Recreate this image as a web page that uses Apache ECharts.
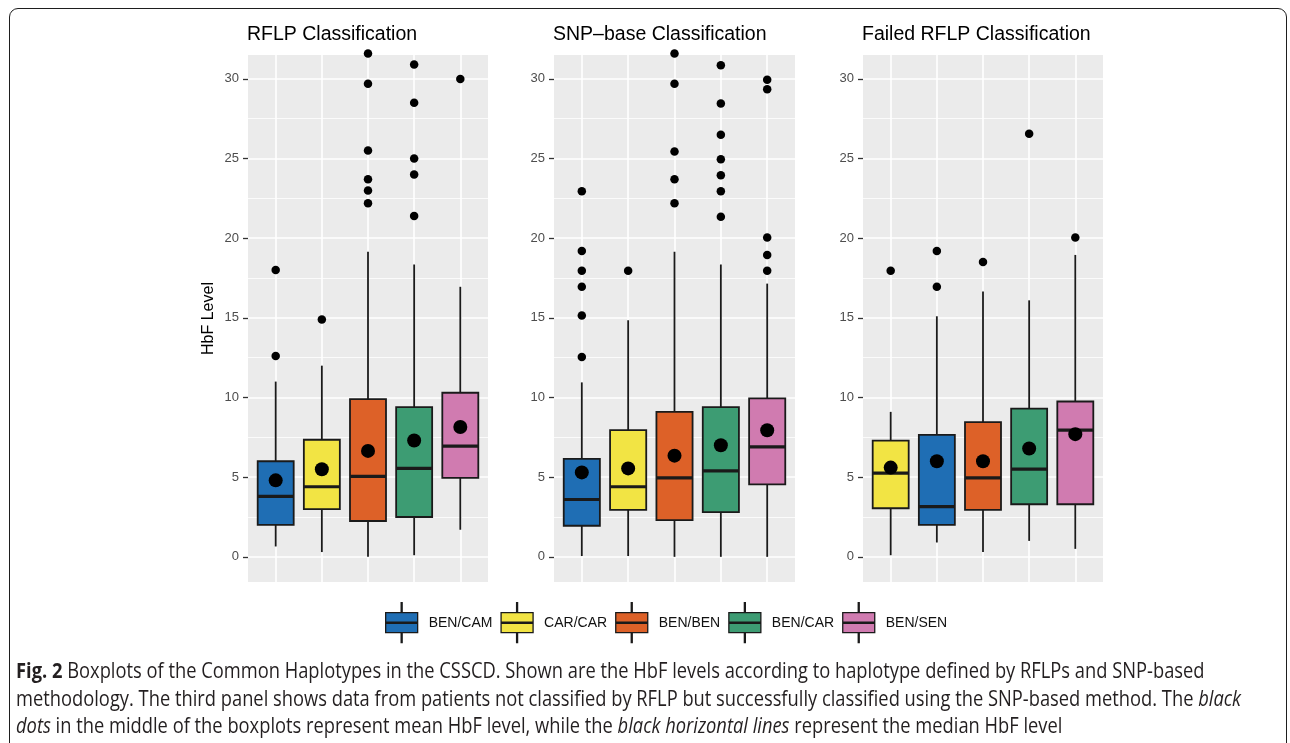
<!DOCTYPE html>
<html>
<head>
<meta charset="utf-8">
<script src="https://cdn.jsdelivr.net/npm/echarts@6/dist/echarts.min.js"></script>
<style>
    html, body { margin: 0; padding: 0; background: #fff; overflow: hidden; }
    #main { position: absolute; left: 0; top: 0; width: 1290px; height: 743px; }
    #frame {
        position: absolute; left: 9px; top: 8px; width: 1278px; height: 800px;
        border: 1.5px solid #1e1e1e; border-radius: 9px; box-sizing: border-box; pointer-events: none;
    }
    #caption {
        position: absolute; left: 16px; top: 657px;
        font-family: "Open Sans", sans-serif; font-size: 21px; line-height: 27.5px; color: #231f20;
    }
    #caption span { display: block; white-space: nowrap; transform-origin: 0 0; }
</style>
</head>
<body>
<div id="main"></div>
<div id="frame"></div>
<div id="caption">
    <span><b>Fig. 2</b> Boxplots of the Common Haplotypes in the CSSCD. Shown are the HbF levels according to haplotype defined by RFLPs and SNP-based</span>
    <span>methodology. The third panel shows data from patients not classified by RFLP but successfully classified using the SNP-based method. The <i>black</i></span>
    <span><i>dots</i> in the middle of the boxplots represent mean HbF level, while the <i>black horizontal lines</i> represent the median HbF level</span>
</div>
<script>
// haplotypes, shared colours and legend
const haplotypes = ['BEN/CAM', 'CAR/CAR', 'BEN/BEN', 'BEN/CAR', 'BEN/SEN'];
const hapColors = ['#1f6eb4', '#f2e444', '#dd6128', '#3d9c73', '#d07bb0'];
const panelTitles = ['RFLP Classification', 'SNP\u2013base Classification', 'Failed RFLP Classification'];
const yTicks = [0, 5, 10, 15, 20, 25, 30];
const yMinorTicks = [2.5, 7.5, 12.5, 17.5, 22.5, 27.5];
const xSlots = [1, 2, 3, 4, 5];

// RFLP panel, boxes are [lower whisker, Q1, median, Q3, upper whisker]
const rflpOrder = ['BEN/CAM', 'CAR/CAR', 'BEN/BEN', 'BEN/CAR', 'BEN/SEN'];
const rflpBoxes = [
    [0.65, 2.0, 3.8, 6.0, 11.0],
    [0.3, 3.0, 4.4, 7.35, 12.0],
    [0.0, 2.25, 5.05, 9.9, 19.15],
    [0.1, 2.5, 5.55, 9.4, 18.35],
    [1.7, 4.95, 6.95, 10.3, 16.95]
];
const rflpMeans = [4.8, 5.5, 6.65, 7.3, 8.15];
const rflpOutliers = [
    [12.6, 18.0],
    [14.9],
    [22.2, 23.0, 23.7, 25.5, 29.7, 31.6],
    [21.4, 24.0, 25.0, 28.5, 30.9],
    [30.0]
];

// SNP-based panel
const snpOrder = ['BEN/CAM', 'CAR/CAR', 'BEN/BEN', 'BEN/CAR', 'BEN/SEN'];
const snpBoxes = [
    [0.05, 1.95, 3.6, 6.15, 10.95],
    [0.05, 2.95, 4.4, 7.95, 14.85],
    [0.0, 2.3, 4.95, 9.1, 19.15],
    [0.0, 2.8, 5.4, 9.4, 18.35],
    [0.0, 4.55, 6.9, 9.95, 17.15]
];
const snpMeans = [5.3, 5.55, 6.35, 7.0, 7.95];
const snpOutliers = [
    [12.55, 15.15, 16.95, 17.95, 19.2, 22.95],
    [17.95],
    [22.2, 23.7, 25.45, 29.7, 31.6],
    [21.35, 22.95, 23.95, 24.95, 26.5, 28.45, 30.85],
    [17.95, 18.95, 20.05, 29.35, 29.95]
];

// failed RFLP panel (yellow first)
const failedOrder = ['CAR/CAR', 'BEN/CAM', 'BEN/BEN', 'BEN/CAR', 'BEN/SEN'];
const failedBoxes = [
    [0.1, 3.05, 5.25, 7.3, 9.1],
    [0.9, 2.0, 3.15, 7.65, 15.1],
    [0.3, 2.95, 4.95, 8.45, 16.65],
    [1.0, 3.3, 5.5, 9.3, 16.1],
    [0.5, 3.3, 7.95, 9.75, 18.95]
];
const failedMeans = [5.6, 6.0, 6.0, 6.8, 7.7];
const failedOutliers = [[17.95], [16.95, 19.2], [18.5], [26.55], [20.05]];

const panels = [
    {order: rflpOrder, boxes: rflpBoxes, means: rflpMeans, outliers: rflpOutliers},
    {order: snpOrder, boxes: snpBoxes, means: snpMeans, outliers: snpOutliers},
    {order: failedOrder, boxes: failedBoxes, means: failedMeans, outliers: failedOutliers}
];

const font = '"Liberation Sans", Arial, Helvetica, sans-serif';
const gridLefts = [248, 554, 863];
const gridWidths = [240, 241, 240];
const boxWidth = 0.78; // in x units
const ink = '#1a1a1a';
const keyIcon = 'path://M16.5,0H17.5V10H16.5Z M1,10H33V19.4H1Z M1,20.6H33V30H1Z M16.5,30H17.5V40H16.5Z';

function renderBox(params, api) {
    const x = api.value(0);
    const lo = api.coord([x, api.value(1)]);
    const q1 = api.coord([x, api.value(2)]);
    const med = api.coord([x, api.value(3)]);
    const q3 = api.coord([x, api.value(4)]);
    const hi = api.coord([x, api.value(5)]);
    const half = api.size([boxWidth, 0])[0] / 2;
    const line = {stroke: ink, lineWidth: 1.8};
    return {
        type: 'group',
        children: [
            {type: 'line', shape: {x1: lo[0], y1: lo[1], x2: q1[0], y2: q1[1]}, style: line},
            {type: 'line', shape: {x1: q3[0], y1: q3[1], x2: hi[0], y2: hi[1]}, style: line},
            {
                type: 'rect',
                shape: {x: q3[0] - half, y: q3[1], width: half * 2, height: q1[1] - q3[1]},
                style: {fill: api.visual('color'), stroke: ink, lineWidth: 1.8}
            },
            {type: 'line', shape: {x1: med[0] - half, y1: med[1], x2: med[0] + half, y2: med[1]}, style: {stroke: ink, lineWidth: 3.2}}
        ]
    };
}

const grid = [], xAxis = [], yAxis = [], title = [], series = [];

panels.forEach((pnl, p) => {
    grid.push({
        left: gridLefts[p], top: 55, width: gridWidths[p], height: 527,
        show: true, backgroundColor: '#ebebeb', borderWidth: 0
    });
    title.push({
        text: panelTitles[p], left: gridLefts[p] - 1, top: 25, padding: 0,
        textStyle: {fontFamily: font, fontSize: 19.5, fontWeight: 'normal', color: '#000'}
    });
    xAxis.push({
        gridIndex: p, type: 'value', min: 0.4, max: 5.6,
        axisLine: {show: false},
        axisTick: {show: false, customValues: xSlots},
        axisLabel: {show: false},
        splitLine: {show: true, lineStyle: {color: '#fff', width: 1.6}}
    });
    // major y axis with labels
    yAxis.push({
        gridIndex: p, type: 'value', min: -1.58, max: 31.5,
        name: p === 0 ? 'HbF Level' : '',
        nameLocation: 'middle', nameGap: 31, nameRotate: 90,
        nameTextStyle: {fontFamily: font, fontSize: 16, color: '#000'},
        axisLine: {show: false},
        axisTick: {show: true, length: 5, customValues: yTicks, lineStyle: {color: '#333', width: 1.3}},
        axisLabel: {customValues: yTicks, fontFamily: font, fontSize: 13, color: '#4d4d4d', margin: 9},
        splitLine: {show: true, lineStyle: {color: '#fff', width: 1.6}}
    });
    // minor y grid lines
    yAxis.push({
        gridIndex: p, type: 'value', min: -1.58, max: 31.5, position: 'left',
        axisLine: {show: false},
        axisTick: {show: false, customValues: yMinorTicks},
        axisLabel: {show: false},
        splitLine: {show: true, lineStyle: {color: '#fff', width: 0.8}}
    });

    pnl.order.forEach((name, i) => {
        series.push({
            type: 'custom', name: name,
            xAxisIndex: p, yAxisIndex: 2 * p,
            itemStyle: {color: hapColors[haplotypes.indexOf(name)]},
            encode: {x: 0, y: [1, 2, 3, 4, 5]},
            renderItem: renderBox,
            data: [[xSlots[i]].concat(pnl.boxes[i])],
            z: 2
        });
    });
    series.push({
        type: 'scatter', name: 'outliers',
        xAxisIndex: p, yAxisIndex: 2 * p,
        symbolSize: 8.5, clip: false,
        itemStyle: {color: '#000', opacity: 1},
        data: pnl.outliers.flatMap((vals, i) => vals.map(v => [xSlots[i], v])),
        z: 3
    });
    series.push({
        type: 'scatter', name: 'mean',
        xAxisIndex: p, yAxisIndex: 2 * p,
        symbolSize: 14,
        itemStyle: {color: '#000', opacity: 1},
        data: pnl.means.map((m, i) => [xSlots[i], m]),
        z: 4
    });
});

const chart = echarts.init(document.getElementById('main'));
chart.setOption({
    animation: false,
    backgroundColor: '#fff',
    title: title,
    grid: grid,
    xAxis: xAxis,
    yAxis: yAxis,
    legend: {
        left: 385, top: 602, padding: 0,
        itemWidth: 34, itemHeight: 40, itemGap: 8,
        data: haplotypes.map(n => ({name: n, icon: keyIcon})),
        itemStyle: {borderColor: ink, borderWidth: 1.3},
        textStyle: {fontFamily: font, fontSize: 14, color: '#111', padding: [0, 0, 0, 5]}
    },
    series: series
});

// fit the caption lines to the width of the printed caption
const capLines = document.querySelectorAll('#caption span');
const scale = 1225 / capLines[0].getBoundingClientRect().width;
capLines.forEach(l => { l.style.transform = 'scaleX(' + scale + ')'; });
</script>
</body>
</html>
